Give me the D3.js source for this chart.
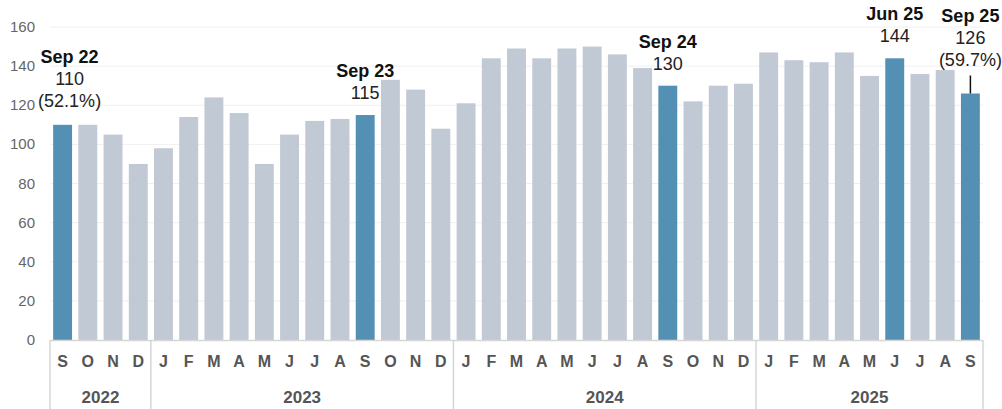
<!DOCTYPE html>
<html>
<head>
<meta charset="utf-8">
<script src="https://cdn.jsdelivr.net/npm/d3@7"></script>
<style>
  html, body { margin: 0; padding: 0; background: #fff; }
  svg { display: block; font-family: Arial, "Liberation Sans", sans-serif; }
</style>
</head>
<body>
<div id="chart"></div>
<script>
// Monthly values, Sep 2022 .. Sep 2025
const months = ['S','O','N','D',
  'J','F','M','A','M','J','J','A','S','O','N','D',
  'J','F','M','A','M','J','J','A','S','O','N','D',
  'J','F','M','A','M','J','J','A','S'];
const years = ['2022','2022','2022','2022',
  '2023','2023','2023','2023','2023','2023','2023','2023','2023','2023','2023','2023',
  '2024','2024','2024','2024','2024','2024','2024','2024','2024','2024','2024','2024',
  '2025','2025','2025','2025','2025','2025','2025','2025','2025'];
const values = [110, 110, 105, 90,
  98, 114, 124, 116, 90, 105, 112, 113, 115, 133, 128, 108,
  121, 144, 149, 144, 149, 150, 146, 139, 130, 122, 130, 131,
  147, 143, 142, 147, 135, 144, 136, 138, 126];
const yTicks = [0, 20, 40, 60, 80, 100, 120, 140, 160];

// Highlighted bars and their callouts (index into the arrays above)
const highlights = [
  { i: 0,  title: 'Sep 22', lines: ['110', '(52.1%)'] },
  { i: 12, title: 'Sep 23', lines: ['115'] },
  { i: 24, title: 'Sep 24', lines: ['130'] },
  { i: 33, title: 'Jun 25', lines: ['144'] },
  { i: 36, title: 'Sep 25', lines: ['126', '(59.7%)'] },
];
// label placement tweaks (dx shift, extra lift with leader line)
const labelStyle = { 0: { dx: 7, lift: 2 }, 36: { dx: 0, lift: 12 } };

const W = 1002, H = 409;
const margin = { top: 27, right: 19, bottom: 69, left: 50 };
const width = W - margin.left - margin.right;
const height = H - margin.top - margin.bottom;

const BLUE = '#5490b4', GREY = '#c1c9d4';

const svg = d3.select('#chart').append('svg')
  .attr('width', W).attr('height', H);
const g = svg.append('g').attr('transform', `translate(${margin.left},${margin.top})`);

const idx = d3.range(values.length);
const x = d3.scaleBand().domain(idx).range([0, width]).paddingInner(0.25).paddingOuter(0.125);
const y = d3.scaleLinear().domain([0, 160]).range([height, 0]);

// gridlines
g.append('g').selectAll('line').data(yTicks.filter(d => d > 0)).join('line')
  .attr('x1', 0).attr('x2', width)
  .attr('y1', d => y(d)).attr('y2', d => y(d))
  .attr('stroke', '#efefef').attr('stroke-width', 1);

// y labels
g.append('g').selectAll('text').data(yTicks).join('text')
  .attr('x', -15).attr('y', d => y(d) + 5)
  .attr('text-anchor', 'end')
  .attr('font-size', 15).attr('fill', '#666')
  .text(d => d);

// bars
const hiSet = new Set(highlights.map(h => h.i));
g.append('g').selectAll('rect').data(idx).join('rect')
  .attr('x', i => x(i)).attr('width', x.bandwidth())
  .attr('y', i => y(values[i])).attr('height', i => y(0) - y(values[i]))
  .attr('fill', i => hiSet.has(i) ? BLUE : GREY);

// axis frame
const frame = g.append('g').attr('stroke', '#d6d6d6').attr('stroke-width', 1.5).attr('fill', 'none');
frame.append('line').attr('x1', 0).attr('x2', width).attr('y1', height + 0.5).attr('y2', height + 0.5);
const bounds = [0];
idx.forEach(i => { if (i > 0 && years[i] !== years[i - 1]) bounds.push(x.step() * i); });
bounds.push(width);
bounds.forEach(b => {
  frame.append('line').attr('x1', b).attr('x2', b).attr('y1', height).attr('y2', H);
});

// month letters
g.append('g').selectAll('text').data(idx).join('text')
  .attr('x', i => x(i) + x.bandwidth() / 2).attr('y', height + 27)
  .attr('text-anchor', 'middle')
  .attr('font-size', 16).attr('font-weight', 'bold').attr('fill', '#555')
  .text(i => months[i]);

// year labels
const yearGroups = d3.groups(idx, i => years[i]);
g.append('g').selectAll('text').data(yearGroups).join('text')
  .attr('x', d => (x(d[1][0]) + x(d[1][d[1].length - 1]) + x.bandwidth()) / 2)
  .attr('y', height + 63)
  .attr('text-anchor', 'middle')
  .attr('font-size', 17).attr('font-weight', 'bold').attr('fill', '#555')
  .text(d => d[0]);

// callouts
highlights.forEach(h => {
  const st = labelStyle[h.i] || { dx: 0, lift: 0 };
  const cx = x(h.i) + x.bandwidth() / 2;
  const top = y(values[h.i]);
  const lastBase = top - 16 - st.lift;
  const rows = [h.title, ...h.lines];
  const lh = 22;
  rows.forEach((t, k) => {
    g.append('text')
      .attr('x', cx + st.dx)
      .attr('y', lastBase - (rows.length - 1 - k) * lh)
      .attr('text-anchor', 'middle')
      .attr('font-size', 18)
      .attr('font-weight', k === 0 ? 'bold' : 'normal')
      .attr('fill', k === 0 ? '#111' : '#222')
      .text(t);
  });
  if (h.i === 36) {
    g.append('line')
      .attr('x1', cx).attr('x2', cx)
      .attr('y1', top - 18).attr('y2', top)
      .attr('stroke', '#111').attr('stroke-width', 1.5);
  }
});
</script>
</body>
</html>
